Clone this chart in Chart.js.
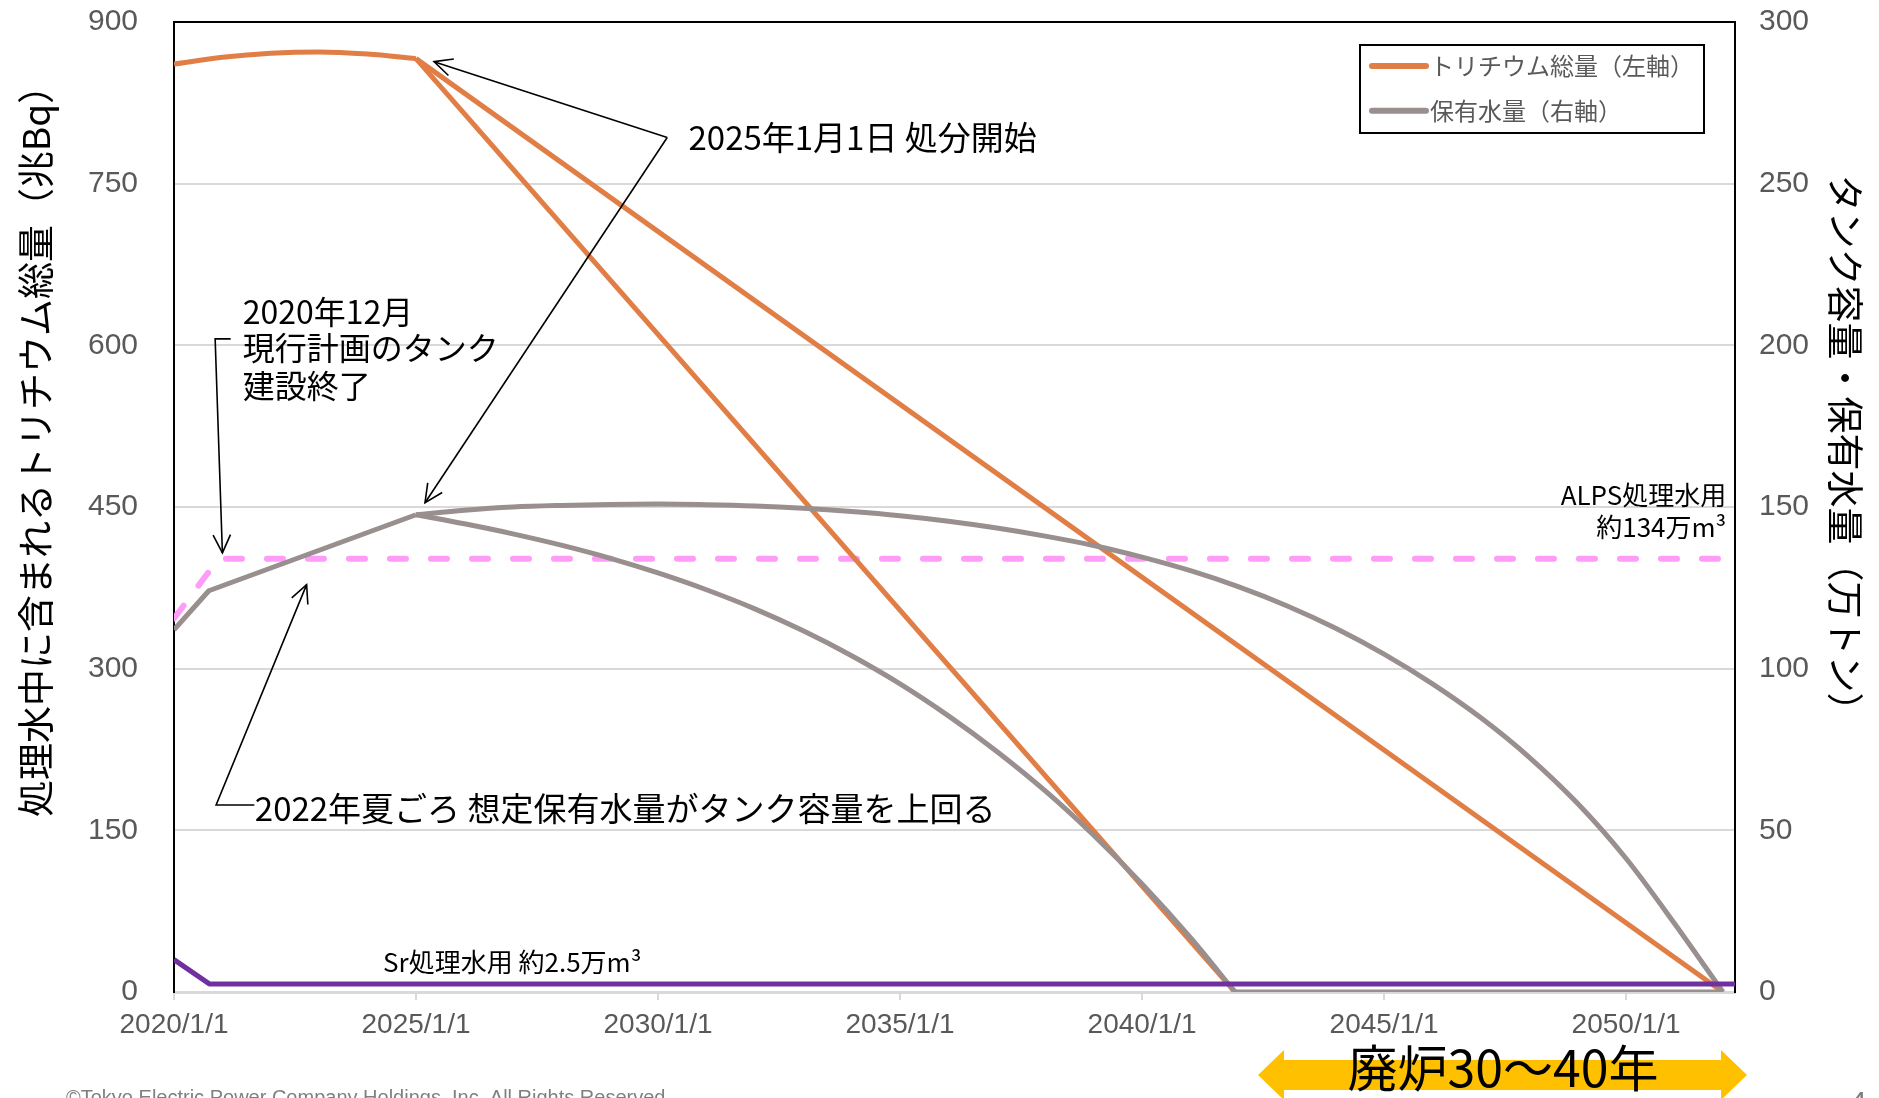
<!DOCTYPE html>
<html lang="ja">
<head>
<meta charset="utf-8">
<title>処理水中のトリチウム総量と保有水量</title>
<script src="https://cdn.jsdelivr.net/npm/chart.js@4.4.1/dist/chart.umd.min.js"></script>
<style>
  html, body { margin: 0; padding: 0; background: #fff; }
  canvas { display: block; }
</style>
</head>
<body>
<canvas id="chart" width="1879" height="1098"></canvas>
<script>
// x = decimal year (2020 = 2020/1/1)
const tritiumStartYears = [2020, 2021, 2022, 2023, 2024, 2025];
const tritiumStart = [861, 867.2, 871, 872.2, 870.2, 866];
const tritiumFastYears = [2025, 2041.92];
const tritiumFast = [866, 0];
const tritiumSlowYears = [2025, 2052];
const tritiumSlow = [866, 0];

const waterStartYears = [2020, 2020.72, 2025];
const waterStart = [112, 124.1, 147.6];
const waterFastYears = [2025, 2026, 2027, 2028, 2029, 2030, 2031, 2032, 2033, 2034, 2035, 2036, 2037, 2038, 2039, 2040, 2041, 2041.92];
const waterFast = [147.6, 144.8, 141.7, 138.2, 134.2, 129.6, 124.4, 118.5, 111.7, 104, 95.3, 85.4, 74.4, 62.2, 48.5, 33.4, 16.8, 0];
const waterEmptyYears = [2041.92, 2052];
const waterEmpty = [0, 0];
const waterSlowYears = [2025, 2026, 2027, 2028, 2029, 2030, 2031, 2032, 2033, 2034, 2035, 2036, 2037, 2038, 2039, 2040, 2041, 2042, 2043, 2044, 2045, 2046, 2047, 2048, 2049, 2050, 2051, 2052];
const waterSlow = [147.6, 149, 150, 150.5, 150.8, 150.9, 150.7, 150.3, 149.6, 148.6, 147.3, 145.6, 143.5, 141, 138.1, 134.5, 130.3, 125.3, 119.4, 112.5, 104.5, 95.3, 84.8, 72.6, 58.3, 41.3, 21.2, 0];

const alpsTankYears = [2020, 2020.92, 2052.05];
const alpsTank = [115.5, 134, 134];
const srTankYears = [2020, 2020.73, 2052.25];
const srTank = [10, 2.5, 2.5];

const xTicks = [2020, 2025, 2030, 2035, 2040, 2045, 2050];

const ORANGE = '#E07E45';
const GRAY = '#998F8F';
const PURPLE = '#7030A0';
const PINK = '#FF9CF8';
const JP = '"Noto Sans CJK JP", "Noto Sans", sans-serif';
const SANS = '"Liberation Sans", Arial, sans-serif';

function pts(xs, ys) {
  return xs.map((x, i) => ({ x: x, y: ys[i] }));
}

function line(label, xs, ys, color, axis, extra) {
  return Object.assign({
    label: label,
    data: pts(xs, ys),
    borderColor: color,
    backgroundColor: color,
    borderWidth: 5,
    yAxisID: axis,
    pointRadius: 0,
    fill: false,
    showInLegend: false
  }, extra || {});
}

const datasets = [
  line('Sr処理水用', srTankYears, srTank, PURPLE, 'y2'),
  line('保有水量（右軸）', waterStartYears, waterStart, GRAY, 'y2', { showInLegend: true }),
  line('保有水量A', waterFastYears, waterFast, GRAY, 'y2', { cubicInterpolationMode: 'monotone' }),
  line('保有水量A0', waterEmptyYears, waterEmpty, GRAY, 'y2'),
  line('保有水量B', waterSlowYears, waterSlow, GRAY, 'y2', { cubicInterpolationMode: 'monotone' }),
  line('トリチウム総量（左軸）', tritiumStartYears, tritiumStart, ORANGE, 'y', { cubicInterpolationMode: 'monotone', showInLegend: true }),
  line('トリチウムA', tritiumFastYears, tritiumFast, ORANGE, 'y'),
  line('トリチウムB', tritiumSlowYears, tritiumSlow, ORANGE, 'y'),
  line('ALPS処理水用', alpsTankYears, alpsTank, PINK, 'y2', { borderDash: [16, 25], borderCapStyle: 'round', borderWidth: 6 })
];

function arrow(ctx, p) {
  ctx.beginPath();
  ctx.moveTo(p[0][0], p[0][1]);
  for (let i = 1; i < p.length; i++) ctx.lineTo(p[i][0], p[i][1]);
  ctx.stroke();
  const [x1, y1] = p[p.length - 2];
  const [x2, y2] = p[p.length - 1];
  const a = Math.atan2(y2 - y1, x2 - x1);
  const L = 20, w = 0.45;
  ctx.beginPath();
  ctx.moveTo(x2 - L * Math.cos(a - w), y2 - L * Math.sin(a - w));
  ctx.lineTo(x2, y2);
  ctx.lineTo(x2 - L * Math.cos(a + w), y2 - L * Math.sin(a + w));
  ctx.stroke();
}

const decorations = {
  id: 'decorations',
  afterDatasetsDraw(chart) {
    const { ctx, chartArea: ca, scales } = chart;
    const X = v => scales.x.getPixelForValue(v);
    const YL = v => scales.y.getPixelForValue(v);
    const YR = v => scales.y2.getPixelForValue(v);
    ctx.save();

    // top frame line
    ctx.strokeStyle = '#000';
    ctx.lineWidth = 2;
    ctx.beginPath();
    ctx.moveTo(ca.left - 1, ca.top);
    ctx.lineTo(ca.right + 1, ca.top);
    ctx.stroke();

    // annotations
    ctx.fillStyle = '#000';
    ctx.strokeStyle = '#000';
    ctx.lineWidth = 1.6;
    ctx.textBaseline = 'middle';
    ctx.textAlign = 'left';

    const kx = X(2025);
    const start = [X(2030.19), YL(792.8)];
    arrow(ctx, [start, [kx + 18, YL(866) + 3]]);
    arrow(ctx, [start, [kx + 9, YR(147.6) - 12]]);
    ctx.font = '33px ' + JP;
    ctx.fillText('2025年1月1日 処分開始', X(2030.63), YL(792.6));

    ctx.font = '32px ' + JP;
    ctx.fillText('2020年12月', X(2021.42), YL(631.5));
    ctx.fillText('現行計画のタンク', X(2021.42), YL(597.5));
    ctx.fillText('建設終了', X(2021.42), YL(562));
    arrow(ctx, [[X(2021.17), YL(606)], [X(2020.85), YL(606)], [X(2021.0), YR(135.8)]]);

    ctx.font = '33px ' + JP;
    ctx.fillText('2022年夏ごろ 想定保有水量がタンク容量を上回る', X(2021.67), YL(170.2));
    arrow(ctx, [[X(2021.66), YL(173.5)], [X(2020.87), YL(173.5)], [X(2022.74), YR(126)]]);

    ctx.font = '26px ' + JP;
    ctx.textAlign = 'right';
    ctx.fillText('ALPS処理水用', X(2052.07), YR(153.8));
    ctx.fillText('約134万m³', X(2052.07), YR(143.8));
    ctx.textAlign = 'left';
    ctx.fillText('Sr処理水用 約2.5万m³', X(2024.32), YR(9.3));

    // legend
    const lx = 1360, ly = 45, lw = 344, lh = 88;
    ctx.fillStyle = '#fff';
    ctx.fillRect(lx, ly, lw, lh);
    ctx.strokeStyle = '#000';
    ctx.lineWidth = 2;
    ctx.strokeRect(lx, ly, lw, lh);
    const items = chart.data.datasets.filter(d => d.showInLegend).reverse();
    ctx.font = '24px ' + JP;
    ctx.textAlign = 'left';
    items.forEach((d, i) => {
      const y = 66 + i * 44.7;
      ctx.strokeStyle = d.borderColor;
      ctx.lineWidth = 6;
      ctx.lineCap = 'round';
      ctx.beginPath();
      ctx.moveTo(1372, y);
      ctx.lineTo(1426, y);
      ctx.stroke();
      ctx.fillStyle = '#595959';
      ctx.fillText(d.label, 1430, y);
    });
    ctx.restore();
  },
  afterDraw(chart) {
    const { ctx } = chart;
    ctx.save();
    ctx.fillStyle = '#000';
    ctx.textAlign = 'center';
    ctx.textBaseline = 'middle';
    ctx.font = '37px ' + JP;

    // axis titles
    ctx.save();
    ctx.translate(36, 442);
    ctx.rotate(-Math.PI / 2);
    ctx.fillText('処理水中に含まれるトリチウム総量（兆Bq）', 0, 0);
    ctx.restore();
    ctx.save();
    ctx.translate(1845, 452);
    ctx.rotate(Math.PI / 2);
    ctx.fillText('タンク容量・保有水量（万トン）', 0, 0);
    ctx.restore();

    // decommissioning double arrow
    const cy = 1075;
    ctx.fillStyle = '#FFC000';
    ctx.beginPath();
    ctx.moveTo(1258, cy);
    ctx.lineTo(1284, cy - 25);
    ctx.lineTo(1284, cy - 15);
    ctx.lineTo(1721, cy - 15);
    ctx.lineTo(1721, cy - 25);
    ctx.lineTo(1747, cy);
    ctx.lineTo(1721, cy + 25);
    ctx.lineTo(1721, cy + 15);
    ctx.lineTo(1284, cy + 15);
    ctx.lineTo(1284, cy + 25);
    ctx.closePath();
    ctx.fill();
    ctx.fillStyle = '#000';
    ctx.font = '50px ' + JP;
    ctx.fillText('廃炉30～40年', 1503, 1068);

    // footer
    ctx.fillStyle = '#7F7F7F';
    ctx.textAlign = 'left';
    ctx.textBaseline = 'alphabetic';
    ctx.font = '20px ' + SANS;
    ctx.fillText('©Tokyo Electric Power Company Holdings, Inc. All Rights Reserved', 66, 1104);
    ctx.font = '30px ' + SANS;
    ctx.fillText('4', 1850, 1112);
    ctx.restore();
  }
};

const tickFont = { family: SANS, size: 30 };
const noPad = s => { s.paddingTop = 0; s.paddingBottom = 0; s.paddingLeft = 0; s.paddingRight = 0; };

new Chart(document.getElementById('chart'), {
  type: 'line',
  data: { datasets: datasets },
  options: {
    responsive: false,
    animation: false,
    layout: { padding: { top: 22, right: 0, bottom: 0, left: 0 } },
    plugins: { legend: { display: false }, tooltip: { enabled: false } },
    elements: { point: { radius: 0 }, line: { borderJoinStyle: 'round', tension: 0 } },
    scales: {
      x: {
        type: 'linear',
        min: 2020,
        max: 2052.25,
        afterFit: s => { s.height = 106; noPad(s); },
        afterBuildTicks: s => { s.ticks = xTicks.map(v => ({ value: v })); },
        ticks: {
          callback: v => v + '/1/1',
          font: { family: SANS, size: 28 },
          color: '#595959',
          padding: 8,
          maxRotation: 0,
          autoSkip: false
        },
        grid: { drawOnChartArea: false, drawTicks: true, tickLength: 8, color: '#D9D9D9', lineWidth: 2 },
        border: { color: '#D9D9D9', width: 3 }
      },
      y: {
        position: 'left',
        min: 0,
        max: 900,
        afterFit: s => { s.width = 174; noPad(s); },
        ticks: { stepSize: 150, font: tickFont, color: '#595959', padding: 36 },
        grid: { color: '#D9D9D9', lineWidth: 2, drawTicks: false },
        border: { color: '#000', width: 2 }
      },
      y2: {
        position: 'right',
        min: 0,
        max: 300,
        afterFit: s => { s.width = 144; noPad(s); },
        ticks: { stepSize: 50, font: tickFont, color: '#595959', padding: 24 },
        grid: { drawOnChartArea: false, drawTicks: false },
        border: { color: '#000', width: 2 }
      }
    }
  },
  plugins: [decorations]
});
</script>
</body>
</html>
